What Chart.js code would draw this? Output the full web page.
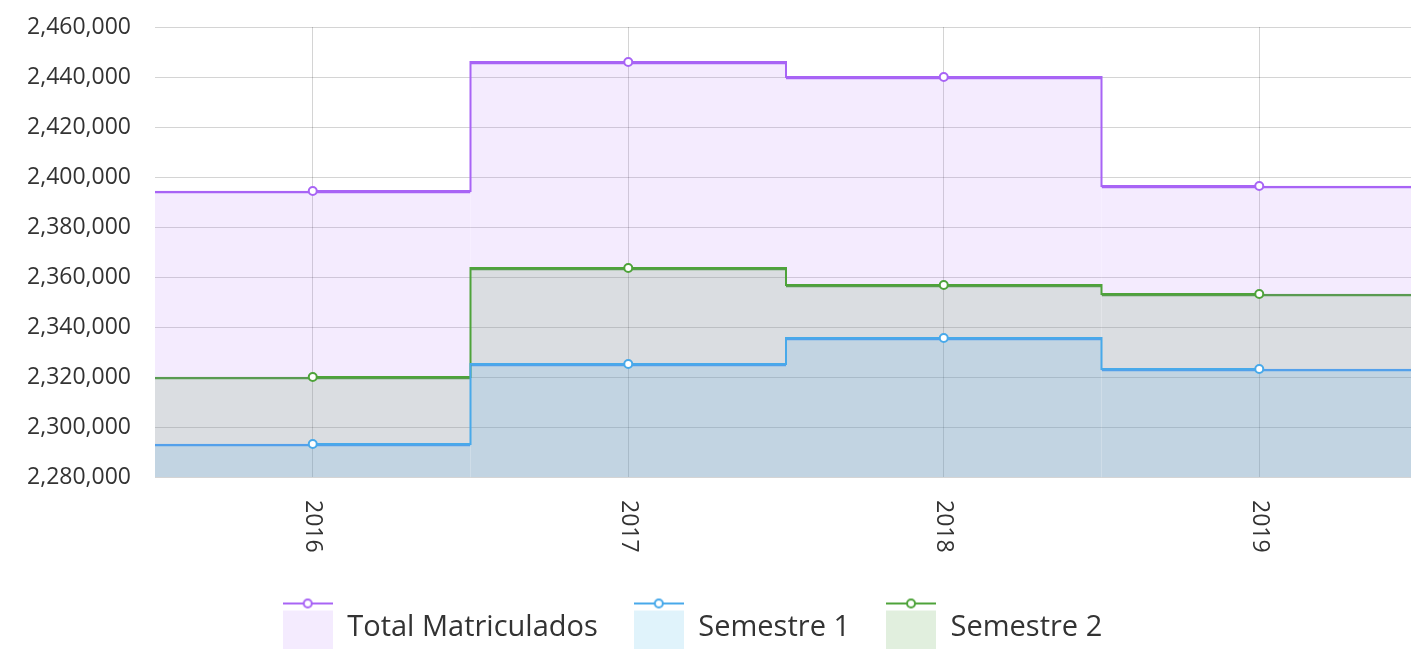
<!DOCTYPE html>
<html>
<head>
<meta charset="utf-8">
<script src="https://cdn.jsdelivr.net/npm/chart.js@4.4.0/dist/chart.umd.min.js"></script>
<style>
  html, body { margin: 0; padding: 0; background: #fff; overflow: hidden; }
  #wrap { width: 1423px; height: 652px; }
</style>
</head>
<body>
<div id="wrap"><canvas id="grafico"></canvas></div>
<script>
const anios = ['2016', '2017', '2018', '2019'];
const totalMatriculados = [2394400, 2446000, 2440000, 2396400];
const semestre1 = [2293200, 2325200, 2335600, 2323200];
const semestre2 = [2320000, 2363600, 2356800, 2353200];
const yMin = 2280000, yMax = 2460000, yPaso = 20000;

const series = [
    { label: 'Total Matriculados', data: totalMatriculados, color: '#a864f5', relleno: 'rgba(168, 100, 245, 0.13)' },
    { label: 'Semestre 1', data: semestre1, color: '#48a9ea', relleno: 'rgba(60, 178, 232, 0.16)' },
    { label: 'Semestre 2', data: semestre2, color: '#4ea33a', relleno: 'rgba(78, 163, 58, 0.17)' },
];

const fuente = '"Open Sans", sans-serif';

// muestra de leyenda: linea con circulo arriba y caja de relleno debajo
function muestra(s) {
    const c = document.createElement('canvas');
    c.width = 50;
    c.height = 62;
    const g = c.getContext('2d');
    g.fillStyle = s.relleno;
    g.fillRect(0, 14, 50, 48);
    g.strokeStyle = s.color;
    g.lineWidth = 2;
    g.beginPath();
    g.moveTo(0, 7);
    g.lineTo(50, 7);
    g.stroke();
    g.beginPath();
    g.arc(25, 7, 4, 0, Math.PI * 2);
    g.fillStyle = '#fff';
    g.fill();
    g.stroke();
    return c;
}

const lineas = series.map(s => ({
    type: 'line',
    label: s.label,
    data: s.data,
    stepped: 'middle',
    borderColor: s.color,
    borderWidth: 2,
    pointRadius: 4,
    pointBorderWidth: 2,
    pointBackgroundColor: '#fff',
    pointBorderColor: s.color,
    fill: false,
    order: 0,
}));

// las barras dan el relleno y el tramo horizontal hasta los bordes
const barras = series.map(s => ({
    type: 'bar',
    label: s.label,
    data: s.data,
    backgroundColor: s.relleno,
    borderColor: s.color,
    borderWidth: { top: 2, left: 0, right: 0, bottom: 0 },
    barPercentage: 1,
    categoryPercentage: 1,
    grouped: false,
    order: 1,
}));

// etiquetas del eje x giradas en sentido horario
const etiquetasX = {
    id: 'etiquetasX',
    afterLayout(chart) {
        // la leyenda queda algo a la izquierda del centro
        chart.legend.right -= 38;
    },
    afterDraw(chart) {
        const { ctx, chartArea, scales } = chart;
        ctx.save();
        ctx.font = '23px ' + fuente;
        ctx.fillStyle = '#333';
        ctx.textAlign = 'left';
        ctx.textBaseline = 'middle';
        anios.forEach((a, i) => {
            ctx.save();
            ctx.translate(scales.x.getPixelForValue(i), chartArea.bottom + 23);
            ctx.rotate(Math.PI / 2);
            ctx.fillText(a, 0, 0);
            ctx.restore();
        });
        ctx.restore();
    }
};

new Chart(document.getElementById('grafico'), {
    type: 'bar',
    data: {
        labels: anios,
        datasets: [...lineas, ...barras],
    },
    options: {
        responsive: true,
        maintainAspectRatio: false,
        animation: false,
        layout: { padding: 0 },
        plugins: {
            tooltip: { enabled: false },
            legend: {
                position: 'bottom',
                labels: {
                    usePointStyle: true,
                    pointStyleWidth: 50,
                    padding: 36,
                    color: '#333',
                    font: { size: 29, family: fuente },
                    generateLabels: () => series.map((s, i) => ({
                        text: s.label,
                        pointStyle: muestra(s),
                        datasetIndex: i,
                        hidden: false,
                        lineWidth: 0,
                        fillStyle: s.relleno,
                        strokeStyle: s.color,
                        fontColor: '#333',
                    })),
                },
            },
        },
        scales: {
            x: {
                offset: true,
                grid: { offset: false, drawTicks: false, color: 'rgba(0, 0, 0, 0.17)' },
                border: { display: false },
                ticks: { display: false },
                afterFit: (s) => { s.height = 100; },
            },
            y: {
                min: yMin,
                max: yMax,
                ticks: {
                    stepSize: yPaso,
                    padding: 24,
                    color: '#333',
                    font: { size: 23, family: fuente },
                },
                grid: { drawTicks: false, color: 'rgba(0, 0, 0, 0.17)' },
                border: { display: false },
                afterFit: (s) => {
                    s.width = 155;
                    s.paddingTop = 27;
                    s.paddingBottom = 14;
                },
            },
        },
    },
    plugins: [etiquetasX],
});
</script>
</body>
</html>
